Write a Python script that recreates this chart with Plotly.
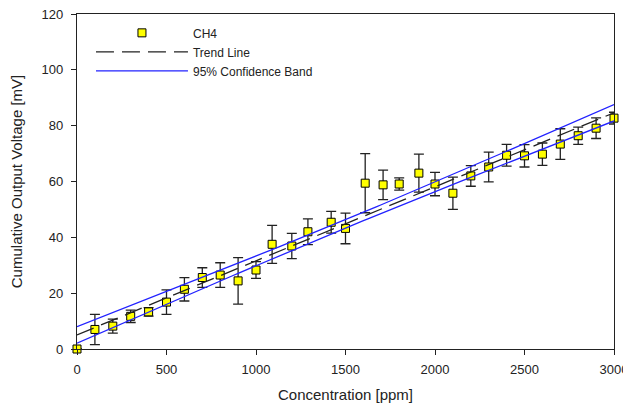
import numpy as np
import plotly.graph_objects as go

conc = [0, 100, 200, 300, 400, 500, 600, 700, 800, 900, 1000, 1090, 1200, 1290,
        1420, 1500, 1610, 1710, 1800, 1910, 2000, 2100, 2200, 2300, 2400, 2500,
        2600, 2700, 2800, 2900, 3000]
voltage = [0, 7.0, 8.2, 11.7, 13.3, 16.8, 21.4, 25.6, 26.5, 24.4, 28.3, 37.5, 36.9,
           42.0, 45.4, 43.2, 59.4, 58.8, 59.1, 63.0, 59.1, 55.8, 62.0, 65.2, 69.4,
           69.2, 69.8, 73.4, 76.4, 79.1, 82.7]
err = [0, 5.4, 2.5, 2.2, 1.5, 4.4, 4.2, 3.5, 4.4, 8.3, 3.0, 6.8, 4.5, 4.6, 3.9,
       5.5, 10.6, 5.3, 2.2, 6.8, 4.2, 5.8, 3.7, 5.3, 3.9, 4.0, 4.0, 5.5, 3.1, 3.7, 2.1]

x_ticks = [0, 500, 1000, 1500, 2000, 2500, 3000]
y_ticks = [0, 20, 40, 60, 80, 100, 120]

# Linear regression with 95% confidence band
x = np.array(conc, dtype=float)
y = np.array(voltage, dtype=float)
n = len(x)
slope, intercept = np.polyfit(x, y, 1)
resid = y - (slope * x + intercept)
s = np.sqrt(np.sum(resid ** 2) / (n - 2))
sxx = np.sum((x - x.mean()) ** 2)
t_val = 2.045
xf = np.linspace(0, 3000, 121)
yf = slope * xf + intercept
hw = t_val * s * np.sqrt(1.0 / n + (xf - x.mean()) ** 2 / sxx)

fig = go.Figure()
fig.add_trace(go.Scatter(
    x=conc, y=voltage, mode="markers", name="CH4",
    marker=dict(symbol="square", size=8, color="#ffff00",
                line=dict(color="black", width=1)),
    error_y=dict(type="data", array=err, color="#222222", thickness=1.3, width=5),
    cliponaxis=False,
))
fig.add_trace(go.Scatter(
    x=xf, y=yf, mode="lines", name="Trend Line",
    line=dict(color="#222222", width=1.3, dash="18px,8px"),
))
fig.add_trace(go.Scatter(
    x=xf, y=yf + hw, mode="lines", name="95% Confidence Band",
    line=dict(color="#2222ff", width=1.3),
))
fig.add_trace(go.Scatter(
    x=xf, y=yf - hw, mode="lines", name="95% Confidence Band", showlegend=False,
    line=dict(color="#2222ff", width=1.3),
))

axis_common = dict(
    showgrid=False, zeroline=False, showline=True, linecolor="#222222",
    linewidth=1.3, mirror=True, ticks="outside", ticklen=5, tickwidth=1.2,
    tickcolor="#222222", automargin=False, ticklabeloverflow="allow",
    tickfont=dict(family="Liberation Sans, Arial", size=13, color="#222222"),
)
fig.update_xaxes(range=[0, 3000], tickvals=x_ticks, ticklabelstandoff=3,
                 title=dict(text="Concentration [ppm]", standoff=15,
                            font=dict(family="Liberation Sans, Arial", size=15, color="#222222")),
                 **axis_common)
fig.update_yaxes(range=[0, 120], tickvals=y_ticks, ticklabelstandoff=5,
                 title=dict(text="Cumulative Output Voltage [mV]", standoff=15,
                            font=dict(family="Liberation Sans, Arial", size=15, color="#222222")),
                 **axis_common)

fig.update_layout(
    width=623, height=395,
    margin=dict(l=69, r=17, t=6, b=54),
    plot_bgcolor="white", paper_bgcolor="white",
    legend=dict(x=0.026, y=0.987, xanchor="left", yanchor="top",
                bgcolor="rgba(0,0,0,0)", itemwidth=92,
                font=dict(family="Liberation Sans, Arial", size=12, color="#222222"),
                tracegroupgap=0),
)

fig.write_html("out.html")
